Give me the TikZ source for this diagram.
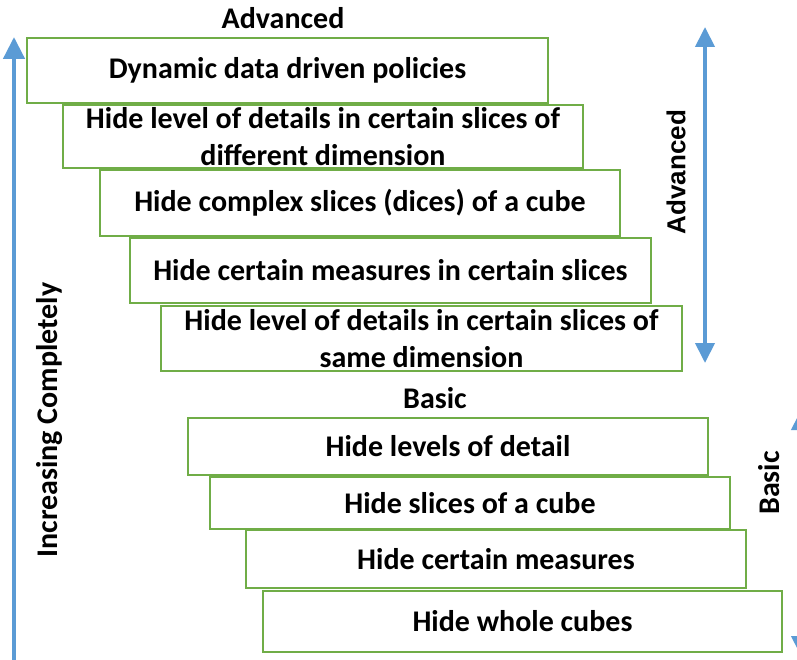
\documentclass[tikz,border=0pt]{standalone}
\usepackage{fontspec}
\setmainfont{Carlito}
\newfontfamily\arialfont{Liberation Sans}
\usetikzlibrary{arrows.meta}
\definecolor{boxgreen}{RGB}{112,173,71}
\definecolor{arrowblue}{RGB}{91,155,213}
\tikzset{
  stair/.style={draw=boxgreen, line width=1.6pt, fill=white, align=center,
    font=\fontsize{30}{37}\selectfont\bfseries, inner sep=0pt},
  lbl/.style={font=\fontsize{30}{36}\selectfont\bfseries, inner sep=0pt},
  bigarrow/.style={draw=arrowblue, line width=4.5pt,
    -{Triangle[width=21pt,length=22pt]}},
  dblarrow/.style={draw=arrowblue, line width=4pt,
    {Triangle[width=19pt,length=20pt]}-{Triangle[width=19pt,length=20pt]}}
}
\begin{document}
\begin{tikzpicture}[x=1pt,y=-1pt]
\useasboundingbox (0,0) rectangle (797,660);
% left arrow
\coordinate (lb) at (14,662);
\coordinate (lt) at (14,37);
\draw[bigarrow] (lb) -- (lt);
\node[lbl, rotate=90] (inc) at (50,420) {Increasing Completely};
% top label
\node[lbl] (adv) at (283,18) {Advanced};
% boxes
\node[stair, minimum width=521pt, minimum height=65pt] (b1) at (287.5,70.5) {Dynamic data driven policies};
\node[stair, minimum width=520pt, minimum height=63pt] (b2) at (323,136.5) {Hide level of details in certain slices of\\different dimension};
\node[stair, minimum width=520pt, minimum height=66pt] (b3) at (360,203) {Hide complex slices (dices) of a cube};
\node[stair, minimum width=521pt, minimum height=65pt] (b4) at (390.5,270.5) {Hide certain measures in certain slices};
\node[stair, minimum width=521pt, minimum height=65pt] (b5) at (421.5,338.5) {Hide level of details in certain slices of\\same dimension};
\node[lbl] (basic) at (435,398) {Basic};
\node[stair, minimum width=520pt, minimum height=57pt] (b6) at (448,446.5) {Hide levels of detail};
\node[stair, minimum width=520pt, minimum height=52pt] (b7) at (470,503) {Hide slices of a cube};
\node[stair, minimum width=500pt, minimum height=58pt] (b8) at (496,559) {Hide certain measures};
\node[stair, minimum width=519pt, minimum height=61pt] (b9) at (522.5,621.5) {Hide whole cubes};
% right advanced arrow
\coordinate (at) at (705,27);
\coordinate (ab) at (705,363);
\draw[dblarrow] (ab) -- (at);
\node[lbl, font=\arialfont\fontsize{26}{30}\selectfont\bfseries, rotate=90] (advr) at (676,172) {Advanced};
% right basic arrow
\coordinate (bt) at (801,410);
\coordinate (bb) at (801,656);
\draw[dblarrow] (bb) -- (bt);
\node[lbl, rotate=90] (basicr) at (769,483) {Basic};
\end{tikzpicture}
\end{document}
